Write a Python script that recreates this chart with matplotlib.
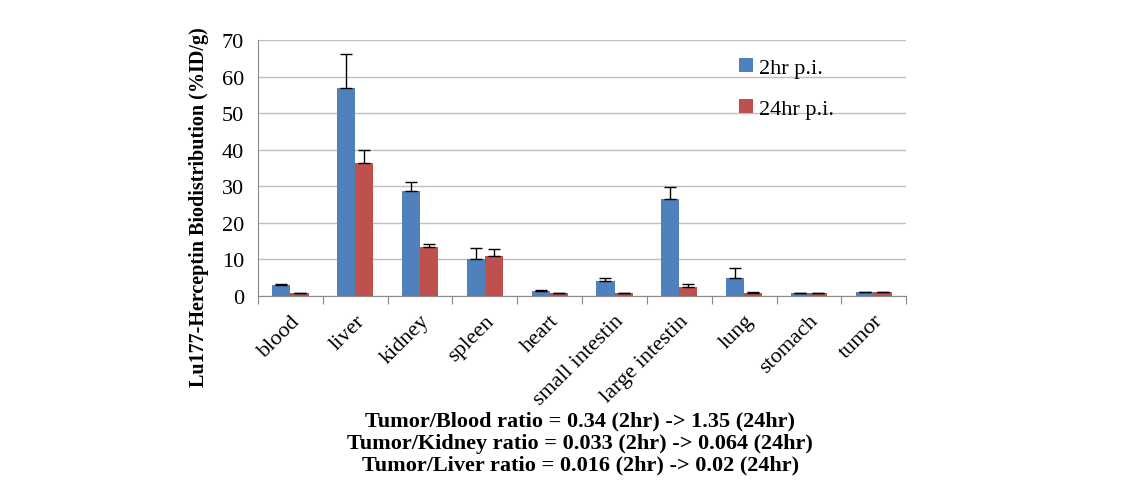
import matplotlib.pyplot as plt
import numpy as np

plt.rcParams["font.family"] = ["Liberation Serif", "DejaVu Serif"]

organs = ["blood", "liver", "kidney", "spleen", "heart", "small intestin",
          "large intestin", "lung", "stomach", "tumor"]
vals_2hr = [2.9, 57.0, 28.8, 10.1, 1.3, 4.0, 26.6, 4.9, 0.7, 1.0]
err_2hr = [0.3, 9.2, 2.3, 2.9, 0.2, 0.8, 3.2, 2.8, 0.1, 0.1]
vals_24hr = [0.7, 36.5, 13.5, 10.9, 0.7, 0.7, 2.3, 0.9, 0.7, 1.0]
err_24hr = [0.1, 3.5, 0.8, 1.8, 0.1, 0.1, 1.0, 0.1, 0.1, 0.1]
ratio_lines = [
    "Tumor/Blood ratio = 0.34 (2hr) -> 1.35 (24hr)",
    "Tumor/Kidney ratio = 0.033 (2hr) -> 0.064 (24hr)",
    "Tumor/Liver ratio = 0.016 (2hr) -> 0.02 (24hr)",
]

BLUE = "#4f81bd"
RED = "#c0504d"

fig = plt.figure(figsize=(11.47, 4.85), dpi=100)
ax = fig.add_axes([0.225, 0.388, 0.565, 0.527])

x = np.arange(len(organs))
w = 0.28
ax.bar(x - w / 2, vals_2hr, w, color=BLUE, label="2hr p.i.", zorder=3)
ax.bar(x + w / 2, vals_24hr, w, color=RED, label="24hr p.i.", zorder=3)
ax.errorbar(x - w / 2, vals_2hr, yerr=[np.zeros(len(organs)), err_2hr],
            fmt="none", ecolor="black", elinewidth=1, capsize=4, zorder=4)
ax.errorbar(x + w / 2, vals_24hr, yerr=[np.zeros(len(organs)), err_24hr],
            fmt="none", ecolor="black", elinewidth=1, capsize=4, zorder=4)

ax.set_xlim(-0.5, len(organs) - 0.5)
ax.set_ylim(0, 70)
ax.set_yticks(np.arange(0, 71, 10))
ax.tick_params(axis="y", length=0, labelsize=16, pad=10)
ax.set_xticks(np.arange(-0.5, len(organs), 1))
ax.set_xticklabels([])
ax.tick_params(axis="x", direction="out", length=6, color="#888888")
ax.set_xticks(x, minor=True)
ax.set_xticklabels(organs, minor=True, rotation=45, ha="right",
                   rotation_mode="anchor", fontsize=16)
ax.tick_params(axis="x", which="minor", length=0, pad=11)

ax.grid(axis="y", color="#bfbfbf", lw=1, zorder=0)
for s in ["top", "right"]:
    ax.spines[s].set_visible(False)
ax.spines["left"].set_color("#888888")
ax.spines["bottom"].set_color("#888888")

ax.set_ylabel("Lu177-Herceptin Biodistribution (%ID/g)", fontsize=14.5,
              fontweight="bold")
ax.yaxis.set_label_coords(-0.075, 0.35)

ax.legend(loc="upper right", bbox_to_anchor=(0.92, 1.01), frameon=False,
          fontsize=16, handlelength=0.6, handleheight=0.6,
          labelspacing=0.95, handletextpad=0.3)

fig.text(0.506, 0.085, "\n".join(ratio_lines), ha="center", va="center",
         fontsize=16, fontweight="bold", linespacing=1.12)

fig.savefig("out.png", dpi=100, facecolor="white")
